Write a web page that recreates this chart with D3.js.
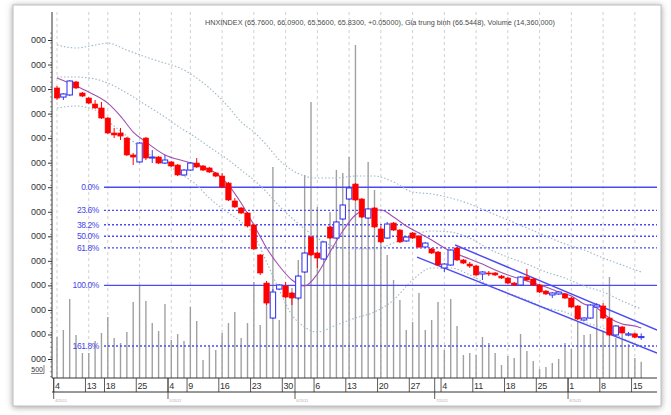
<!DOCTYPE html>
<html>
<head>
<meta charset="utf-8">
<script src="https://cdn.jsdelivr.net/npm/d3@7"></script>
<style>
  body { margin: 0; background: #fff; }
  svg { display: block; font-family: "Liberation Sans", Arial, sans-serif; }
</style>
</head>
<body>
<svg id="chart" width="671" height="415"></svg>
<script>
// daily bars, 4 Apr - 16 Aug 2011 (trading days only)
const opens = [86.09,85.35,85.52,86.58,85.68,85.27,84.78,84.46,83.64,82.42,82.42,82.01,80.63,80.06,82.01,80.38,80.46,79.97,80.06,79.81,
  79.00,79.40,79.97,79.73,79.57,79.16,78.91,78.34,76.88,76.31,75.90,74.92,72.48,70.19,67.34,69.70,69.95,69.38,68.97,71.09,
  73.94,72.64,72.15,74.76,73.86,75.41,77.04,78.26,77.04,75.49,76.31,74.60,73.86,75.08,74.51,73.62,74.27,74.02,73.13,72.97,
  72.72,71.42,71.66,73.05,72.07,71.74,71.58,70.93,71.01,71.01,70.76,70.60,70.19,70.03,70.68,70.52,70.03,69.54,69.22,69.30,
  69.30,68.97,68.32,67.18,67.34,68.24,68.32,67.34,65.96,66.61,65.95,66.05,65.76];
const highs = [86.25,85.68,86.74,86.66,85.76,85.35,85.11,84.95,83.72,82.83,82.83,82.09,80.79,81.69,82.09,81.03,80.54,80.63,80.14,79.89,
  79.49,80.06,80.38,79.81,79.65,79.24,79.16,78.43,77.12,76.39,75.98,75.00,72.56,70.36,69.70,70.11,70.28,69.46,70.85,72.72,
  74.02,72.72,73.62,74.84,75.25,76.63,78.10,78.34,77.12,76.31,76.39,74.84,75.17,75.17,74.60,74.02,74.35,74.11,73.54,73.05,
  72.80,71.82,72.97,73.13,72.15,71.91,71.66,71.17,71.17,71.09,70.85,70.68,70.28,70.76,71.34,70.60,70.11,69.62,69.46,69.54,
  69.38,69.05,68.40,67.42,68.48,68.56,68.56,67.42,66.77,66.69,66.20,66.15,66.09];
const lows = [85.11,85.11,85.43,86.00,85.35,84.78,84.38,83.56,82.34,82.01,81.85,80.54,79.81,79.97,80.22,79.97,79.89,79.89,79.65,78.91,
  78.91,79.32,79.57,79.32,79.16,78.83,77.94,76.88,76.31,75.82,74.76,72.88,70.85,68.40,67.26,69.62,68.97,68.40,68.81,71.01,
  72.39,71.42,72.07,73.78,73.78,75.33,76.96,76.88,75.49,75.41,74.68,73.45,73.78,74.43,73.45,73.54,73.78,73.05,73.05,72.56,
  71.58,71.09,71.58,71.99,71.74,71.42,70.76,70.44,70.76,70.76,70.52,70.11,69.95,69.95,70.36,69.95,69.38,69.22,68.97,69.22,
  68.89,68.16,67.18,67.10,67.26,68.16,67.26,65.87,65.87,66.05,65.85,65.70,65.56];
const closes = [85.27,85.60,86.66,86.09,85.43,84.86,84.46,83.64,82.42,82.26,82.17,80.63,80.46,81.60,80.38,80.46,79.97,80.22,79.73,79.00,
  79.40,79.97,79.65,79.40,79.24,78.91,78.02,76.96,76.39,75.90,74.84,72.97,71.01,68.56,69.46,70.03,69.05,68.97,70.76,72.64,
  72.48,72.23,73.54,73.86,75.17,76.55,77.94,76.96,75.57,76.23,74.76,73.54,75.00,74.51,73.54,73.94,73.86,73.13,73.45,72.64,
  71.66,71.74,72.88,72.07,71.82,71.58,70.85,71.09,70.93,70.85,70.60,70.19,70.03,70.68,70.44,70.03,69.46,69.30,69.38,69.46,
  68.97,68.24,67.26,67.34,68.40,68.40,67.34,65.96,66.69,66.12,66.05,65.78,65.83];
// volume, millions of shares
const volumes = [36.0,42.1,69.3,37.7,21.9,21.9,32.5,39.5,53.5,35.1,30.7,40.4,66.7,81.6,67.5,48.2,41.2,64.9,33.3,38.6,
  32.5,62.3,50.0,15.8,27.2,24.6,39.5,48.2,57.9,35.1,48.2,84.2,46.5,68.4,185.1,50.9,74.6,78.9,103.5,178.1,
  242.1,150.0,112.3,145.6,182.5,179.8,193.9,292.1,145.6,189.5,164.9,127.2,107.9,86.0,68.4,42.1,49.1,74.6,42.1,50.9,
  66.7,24.6,69.3,45.6,20.2,21.9,20.2,36.0,30.7,21.9,11.4,19.3,17.5,38.6,23.7,14.9,7.9,9.6,13.2,16.7,
  30.7,25.4,49.1,37.7,38.6,60.5,40.4,88.6,35.1,38.6,29.8,17.5,14.36];

// average price line (purple), read at sample bars
const maIdx = [0,3,5,8,10,12,14,17,20,23,25,27,29,31,33,35,37,39,41,43,45,47,49,51,53,55,57,59,61,63,65,67,69,71,73,75,77,79,81,83,85,87,89,91,92];
const maVals = [86.90,86.25,85.76,84.86,83.80,82.50,81.69,80.63,80.14,79.65,79.16,78.18,76.71,74.92,73.05,71.58,70.44,69.95,70.93,72.72,
  74.43,75.74,76.14,76.14,75.57,74.84,74.27,73.70,73.05,72.56,72.15,71.74,71.25,70.85,70.52,70.19,69.87,69.46,69.13,68.48,
  68.16,67.34,66.85,66.69,66.53];

// bollinger bands (dotted), read at sample bars
const bandIdx = [0,3,6,8,11,14,17,19,22,24,27,29,31,33,35,37,39,41,44,47,50,53,56,59,62,65,68,71,74,77,80,83,86,89,92];
const bandUpper = [89.59,89.35,89.59,89.75,89.18,88.61,88.12,87.80,86.90,86.09,84.54,83.32,82.50,81.44,80.22,79.40,78.91,78.75,78.75,78.91,
  78.91,78.43,77.61,77.45,77.12,76.63,75.98,75.33,74.68,74.02,73.37,72.88,72.23,71.66,71.09];
const bandMid = [86.98,86.98,86.82,86.49,85.68,84.70,83.72,82.99,82.01,81.28,80.22,79.40,78.59,77.61,76.47,75.49,74.60,73.86,73.13,72.97,
  72.97,73.45,74.11,74.43,74.35,73.86,72.97,72.31,71.74,71.09,70.60,69.95,69.46,68.73,68.08];
const bandLower = [84.46,84.62,84.29,83.40,82.17,80.87,79.97,79.24,78.18,77.12,75.90,75.17,74.11,71.91,69.62,67.59,66.61,66.20,66.77,67.34,
  67.83,68.81,70.44,71.42,71.42,70.85,70.03,69.38,68.81,68.16,67.83,67.02,66.53,65.71,65.06];

// fibonacci retracement between 78 and 70
const fibHigh = 78.0, fibLow = 70.0;
const fibLevels = [0, 23.6, 38.2, 50.0, 61.8, 100.0, 161.8];
const fibLabels = ["0.0%", "23.6%", "38.2%", "50.0%", "61.8%", "100.0%", "161.8%"];

// descending channel, [bar, price]
const channelUpper = [[62.7, 73.29], [94.5, 66.36]];
const channelLower = [[56.7, 72.31], [94.5, 64.49]];

// x axis: first trading day of each week
const tickIdx = [0,5,8,13,18,21,26,31,36,41,46,51,56,61,66,71,76,81,86,91];
const tickLabels = ["4","13","18","25","4","9","16","23","30","6","13","20","27","4","11","18","25","1","8","15"];
const monthIdx = [0,18,38,60,81];
const monthLabels = ["4/2011","5/2011","6/2011","7/2011","8/2011"];

const priceTicks = [64,66,68,70,72,74,76,78,80,82,84,86,88,90];
const priceTickLabels = ["64000","66000","68000","70000","72000","74000","76000","78000","80000","82000","84000","86000","88000","90000"];
const titleText = "HNXINDEX (65.7600, 66.0900, 65.5600, 65.8300, +0.05000), Gia trung binh (66.5448), Volume (14,360,000)";

const plot = { left: 52, right: 657, top: 12, bottom: 378 };
const svg = d3.select('#chart');

const x = d3.scaleLinear().domain([0, 92]).range([57, 641.2]);
const y = d3.scaleLinear().domain([64, 90]).range([359, 40]);
const yVol = d3.scaleLinear().domain([0, 300]).range([plot.bottom, 36]);

const defs = svg.append('defs');
defs.append('filter').attr('id', 'shadow').attr('x', '-5%').attr('y', '-5%').attr('width', '110%').attr('height', '110%')
    .append('feDropShadow').attr('dx', 0).attr('dy', 1).attr('stdDeviation', 3).attr('flood-color', '#777').attr('flood-opacity', 0.7);
defs.append('clipPath').attr('id', 'plot-clip').append('rect')
    .attr('x', plot.left).attr('y', plot.top).attr('width', plot.right - plot.left).attr('height', plot.bottom - plot.top);
defs.append('clipPath').attr('id', 'label-clip').append('rect')
    .attr('x', 31).attr('y', 0).attr('width', 25).attr('height', 415);

// frame
svg.append('rect').attr('x', 13).attr('y', 5).attr('width', 648).attr('height', 401)
    .attr('fill', '#fff').attr('stroke', '#bdbdbd').attr('filter', 'url(#shadow)');

const g = svg.append('g').attr('clip-path', 'url(#plot-clip)');

// vertical dashed grid
g.append('g').selectAll('line').data(tickIdx).join('line')
    .attr('x1', d => x(d)).attr('x2', d => x(d))
    .attr('y1', plot.top).attr('y2', plot.bottom)
    .attr('stroke', '#c4c4c4').attr('stroke-dasharray', '3,3').attr('stroke-width', 0.8);

// volume
g.append('g').selectAll('line').data(volumes).join('line')
    .attr('x1', (d, i) => x(i)).attr('x2', (d, i) => x(i))
    .attr('y1', plot.bottom).attr('y2', d => yVol(d))
    .attr('stroke', '#a0a0a0').attr('stroke-width', 1.4);

// fibonacci lines
const fibPrice = p => fibHigh - (fibHigh - fibLow) * p / 100;
g.append('g').selectAll('line').data(fibLevels).join('line')
    .attr('x1', 104).attr('x2', plot.right)
    .attr('y1', d => y(fibPrice(d))).attr('y2', d => y(fibPrice(d)))
    .attr('stroke', '#4b4bf5').attr('stroke-width', 1.4)
    .attr('stroke-dasharray', d => (d === 0 || d === 100) ? null : '2,2');
svg.append('g').selectAll('text').data(fibLevels).join('text')
    .attr('x', 99).attr('y', d => y(fibPrice(d)) + 3)
    .attr('text-anchor', 'end').attr('font-size', 8.5).attr('letter-spacing', -0.4)
    .attr('fill', '#4646e8')
    .text((d, i) => fibLabels[i]);

// bollinger bands
const bandLine = vals => d3.line().curve(d3.curveMonotoneX)
    .x(d => x(d)).y((d, i) => y(vals[i]))(bandIdx);
[bandUpper, bandMid, bandLower].forEach(vals => {
    g.append('path').attr('d', bandLine(vals))
        .attr('fill', 'none').attr('stroke', '#9cb8c8').attr('stroke-width', 1.1)
        .attr('stroke-dasharray', '1.5,2');
});

// average line
g.append('path')
    .attr('d', d3.line().curve(d3.curveMonotoneX).x(d => x(d)).y((d, i) => y(maVals[i]))(maIdx))
    .attr('fill', 'none').attr('stroke', '#a050b0').attr('stroke-width', 1.1);

// channel
[channelUpper, channelLower].forEach(c => {
    g.append('line')
        .attr('x1', x(c[0][0])).attr('y1', y(c[0][1]))
        .attr('x2', x(c[1][0])).attr('y2', y(c[1][1]))
        .attr('stroke', '#4b4bf5').attr('stroke-width', 1.4);
});

// candles
const bodyW = 5.4;
const up = i => closes[i] >= opens[i];
const candles = g.append('g').selectAll('g').data(d3.range(opens.length)).join('g');
candles.append('line')
    .attr('x1', i => x(i)).attr('x2', i => x(i))
    .attr('y1', i => y(highs[i])).attr('y2', i => y(lows[i]))
    .attr('stroke', i => up(i) ? '#3c3cf0' : '#ff0000').attr('stroke-width', 1);
candles.append('rect')
    .attr('x', i => x(i) - bodyW / 2)
    .attr('y', i => y(Math.max(opens[i], closes[i])))
    .attr('width', bodyW)
    .attr('height', i => Math.max(1, Math.abs(y(opens[i]) - y(closes[i]))))
    .attr('fill', i => up(i) ? '#fff' : '#ff0000')
    .attr('stroke', i => up(i) ? '#3c3cf0' : '#ff0000')
    .attr('stroke-width', i => up(i) ? 1.1 : 0.6);

// y axis: major ticks, minor ticks, cropped labels
const yAxis = svg.append('g').attr('transform', `translate(${plot.left},0)`);
yAxis.call(d3.axisLeft(y).tickValues(priceTicks).tickSize(4).tickFormat(''));
yAxis.select('.domain').remove();
yAxis.selectAll('.tick line').attr('stroke', '#333');
const minorTicks = d3.range(62.6, 91.0, 0.4).filter(v => y(v) >= plot.top && y(v) <= plot.bottom);
svg.append('g').attr('transform', `translate(${plot.left},0)`)
    .call(d3.axisLeft(y).tickValues(minorTicks).tickSize(2).tickFormat(''))
    .call(a => a.select('.domain').remove())
    .selectAll('line').attr('stroke', '#555').attr('stroke-width', 0.6);
svg.append('g').attr('clip-path', 'url(#label-clip)')
    .selectAll('text').data(priceTicks).join('text')
    .attr('x', 46).attr('y', d => y(d) + 3)
    .attr('text-anchor', 'end').attr('font-size', 9).attr('fill', '#333')
    .text((d, i) => priceTickLabels[i]);
svg.append('line').attr('x1', plot.left).attr('x2', plot.left).attr('y1', plot.top).attr('y2', plot.bottom)
    .attr('stroke', '#333').attr('stroke-width', 1);

// small volume marker at the bottom of the y axis
svg.append('text').attr('x', 43).attr('y', 372).attr('text-anchor', 'end').attr('font-size', 7)
    .attr('fill', '#333').attr('clip-path', 'url(#label-clip)').text('1500');
svg.append('path').attr('d', 'M31,373.5H44V365').attr('fill', 'none').attr('stroke', '#555').attr('stroke-width', 0.7);

// x axis (date box)
const xg = svg.append('g');
xg.append('line').attr('x1', plot.left).attr('x2', plot.right).attr('y1', plot.bottom).attr('y2', plot.bottom).attr('stroke', '#333');
xg.append('line').attr('x1', plot.left).attr('x2', plot.right).attr('y1', 392).attr('y2', 392).attr('stroke', '#333');
xg.selectAll('.sep').data(tickIdx).join('line').attr('class', 'sep')
    .attr('x1', d => x(d) - 3.3).attr('x2', d => x(d) - 3.3)
    .attr('y1', plot.bottom).attr('y2', 392).attr('stroke', '#333').attr('stroke-width', 0.8);
xg.selectAll('.mon').data(monthIdx).join('line').attr('class', 'mon')
    .attr('x1', d => x(d) - 3.3).attr('x2', d => x(d) - 3.3)
    .attr('y1', plot.bottom).attr('y2', 399).attr('stroke', '#333').attr('stroke-width', 0.8);
xg.selectAll('.lab').data(tickIdx).join('text').attr('class', 'lab')
    .attr('x', d => x(d) - 2).attr('y', 389)
    .attr('font-size', 9).attr('fill', '#333').attr('letter-spacing', -0.3)
    .text((d, i) => tickLabels[i]);
xg.selectAll('.mlab').data(monthIdx).join('text').attr('class', 'mlab')
    .attr('x', d => x(d) - 2).attr('y', 402)
    .attr('font-size', 4).attr('fill', '#b0b0b0')
    .text((d, i) => monthLabels[i]);

// title
svg.append('text').attr('x', 380).attr('y', 25).attr('text-anchor', 'middle')
    .attr('font-size', 8).attr('fill', '#4a4a4a')
    .attr('textLength', 350).attr('lengthAdjust', 'spacingAndGlyphs')
    .text(titleText);
</script>
</body>
</html>
